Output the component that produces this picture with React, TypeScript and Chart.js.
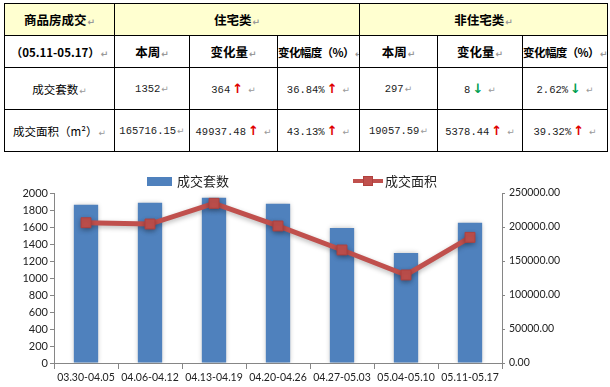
import React, { useEffect, useRef } from "react";
import { Chart, registerables } from "chart.js";

Chart.register(...registerables);

// ---------- data ----------
const categories = [
  "03.30-04.05",
  "04.06-04.12",
  "04.13-04.19",
  "04.20-04.26",
  "04.27-05.03",
  "05.04-05.10",
  "05.11-05.17",
];
const unitsSold = [1862, 1886, 1945, 1874, 1588, 1293, 1649];
const areaSold = [206300, 204400, 234800, 201500, 166200, 129458, 184774];
const seriesNames = ["成交套数", "成交面积"];

const topHeaders = ["商品房成交", "住宅类", "非住宅类"];
const subHeaders = ["（05.11-05.17）", "本周", "变化量", "变化幅度（%）", "本周", "变化量", "变化幅度（%）"];
const rowLabels = ["成交套数", "成交面积（m²）"];
const row1Values = ["1352", "364", "36.84%", "297", "8", "2.62%"];
const row1Dirs = ["", "up", "up", "", "down", "down"];
const row2Values = ["165716.15", "49937.48", "43.13%", "19057.59", "5378.44", "39.32%"];
const row2Dirs = ["", "up", "up", "", "up", "up"];

const BLUE = "#4F81BD";
const RED = "#C0504D";
const AXIS = "#868686";

const colWidths = [110, 75, 88, 82, 78, 85, 85];
const rowHeights = [32, 32, 42, 42];

const shadowPlugin = {
  id: "softShadow",
  beforeDatasetDraw(chart: any, args: any) {
    const ctx = chart.ctx;
    ctx.save();
    ctx.shadowColor = "rgba(0,0,0,0.28)";
    ctx.shadowBlur = 5;
    ctx.shadowOffsetX = 0;
    ctx.shadowOffsetY = args.index === 1 ? 2 : 0;
  },
  afterDatasetDraw(chart: any) {
    chart.ctx.restore();
  },
};

const Para = () => (
  <span style={{ color: "#999", fontSize: 9, fontFamily: "DejaVu Sans", marginLeft: 1 }}>↵</span>
);

const Arrow = ({ dir }: { dir: string }) =>
  dir ? (
    <span
      style={{
        color: dir === "up" ? "#E00000" : "#00A050",
        fontWeight: 900,
        fontSize: 13,
        fontFamily: "DejaVu Sans",
        marginLeft: 2,
        marginRight: 4,
      }}
    >
      {dir === "up" ? "↑" : "↓"}
    </span>
  ) : null;

const cellBase: React.CSSProperties = {
  border: "1px solid #000",
  textAlign: "center",
  verticalAlign: "middle",
  padding: 0,
  whiteSpace: "nowrap",
  overflow: "hidden",
};

const headFont: React.CSSProperties = {
  fontFamily: "'Noto Sans CJK SC'",
  fontWeight: 700,
  fontSize: 12.5,
  color: "#000",
};

const numFont: React.CSSProperties = {
  fontFamily: "'Liberation Mono'",
  fontSize: 10.5,
  color: "#222",
};

const labelFont: React.CSSProperties = {
  fontFamily: "'Noto Sans CJK SC'",
  fontSize: 11.5,
  color: "#000",
};

function DataTable() {
  const valueRow = (label: string, vals: string[], dirs: string[], h: number) => (
    <tr style={{ height: h }}>
      <td style={{ ...cellBase, ...labelFont }}>
        {label}
        <Para />
      </td>
      {vals.map((v, i) => (
        <td key={i} style={{ ...cellBase, ...numFont }}>
          {v}
          <Arrow dir={dirs[i]} />
          <Para />
        </td>
      ))}
    </tr>
  );
  return (
    <table
      style={{
        position: "absolute",
        left: 4,
        top: 3,
        width: 604,
        borderCollapse: "collapse",
        tableLayout: "fixed",
        background: "#fff",
      }}
    >
      <colgroup>
        {colWidths.map((w, i) => (
          <col key={i} style={{ width: w }} />
        ))}
      </colgroup>
      <tbody>
        <tr style={{ height: rowHeights[0], background: "#FFFFD0" }}>
          <td style={{ ...cellBase, ...headFont }}>
            {topHeaders[0]}
            <Para />
          </td>
          <td colSpan={3} style={{ ...cellBase, ...headFont }}>
            {topHeaders[1]}
            <Para />
          </td>
          <td colSpan={3} style={{ ...cellBase, ...headFont }}>
            {topHeaders[2]}
            <Para />
          </td>
        </tr>
        <tr style={{ height: rowHeights[1] }}>
          {subHeaders.map((s, i) => (
            <td
              key={i}
              style={{
                ...cellBase,
                ...headFont,
                fontSize: i === 0 ? 11.5 : i === 3 || i === 6 ? 11.5 : 12.5,
                letterSpacing: i === 3 || i === 6 ? -0.6 : 0,
              }}
            >
              {s}
              <Para />
            </td>
          ))}
        </tr>
        {valueRow(rowLabels[0], row1Values, row1Dirs, rowHeights[2])}
        {valueRow(rowLabels[1], row2Values, row2Dirs, rowHeights[3])}
      </tbody>
    </table>
  );
}

function ComboChart() {
  const ref = useRef<HTMLCanvasElement | null>(null);
  useEffect(() => {
    if (!ref.current) return;
    const tickFont = { family: "Lato", size: 10.5 };
    const chart = new Chart(ref.current, {
      type: "bar",
      data: {
        labels: categories,
        datasets: [
          {
            type: "bar",
            label: seriesNames[0],
            data: unitsSold,
            backgroundColor: BLUE,
            borderWidth: 0,
            yAxisID: "y",
            barPercentage: 0.38,
            categoryPercentage: 1,
            order: 2,
          } as any,
          {
            type: "line",
            label: seriesNames[1],
            data: areaSold,
            borderColor: RED,
            backgroundColor: RED,
            borderWidth: 5,
            pointStyle: "rect",
            pointRadius: 7,
            pointBorderWidth: 1,
            pointBorderColor: "#B0413E",
            pointBackgroundColor: RED,
            tension: 0,
            yAxisID: "y1",
            order: 1,
          } as any,
        ],
      },
      options: {
        animation: false,
        responsive: false,
        events: [],
        layout: { padding: { top: 33, left: 0, right: 0, bottom: 0 } },
        plugins: {
          legend: { display: false },
          tooltip: { enabled: false },
        },
        scales: {
          x: {
            offset: true,
            grid: {
              display: true,
              offset: true,
              drawOnChartArea: false,
              drawTicks: true,
              tickLength: 6,
              color: AXIS,
            },
            border: { display: true, color: AXIS },
            ticks: {
              font: tickFont,
              color: "#222",
              padding: 2,
              maxRotation: 0,
              autoSkip: false,
            },
            afterFit: (s: any) => {
              s.height = 24;
            },
          },
          y: {
            position: "left",
            min: 0,
            max: 2000,
            grid: {
              display: true,
              drawOnChartArea: false,
              drawTicks: true,
              tickLength: 4,
              color: AXIS,
            },
            border: { display: true, color: AXIS },
            ticks: {
              stepSize: 200,
              font: { family: "Lato", size: 11 },
              color: "#222",
              padding: 2,
              callback: (v: any) => String(v),
            },
            afterFit: (s: any) => {
              s.width = 54;
            },
          },
          y1: {
            position: "right",
            min: 0,
            max: 250000,
            grid: {
              display: true,
              drawOnChartArea: false,
              drawTicks: true,
              tickLength: 3,
              color: AXIS,
            },
            border: { display: true, color: AXIS },
            ticks: {
              stepSize: 50000,
              font: tickFont,
              color: "#222",
              padding: 4,
              callback: (v: any) => Number(v).toFixed(2),
            },
            afterFit: (s: any) => {
              s.width = 108;
            },
          },
        },
      } as any,
      plugins: [shadowPlugin],
    });
    return () => chart.destroy();
  }, []);
  return (
    <div style={{ position: "absolute", left: 0, top: 160, width: 610, height: 227 }}>
      <canvas ref={ref} width={610} height={227} style={{ width: 610, height: 227, display: "block" }} />
    </div>
  );
}

function Legend() {
  const txt: React.CSSProperties = {
    position: "absolute",
    top: 172,
    fontFamily: "'Noto Sans CJK SC'",
    fontSize: 13,
    lineHeight: "18px",
    color: "#222",
    whiteSpace: "nowrap",
  };
  return (
    <>
      <div style={{ position: "absolute", left: 147, top: 177, width: 25, height: 9, background: BLUE }} />
      <div style={{ ...txt, left: 177 }}>{seriesNames[0]}</div>
      <div style={{ position: "absolute", left: 353, top: 179, width: 30, height: 4, background: RED }} />
      <div
        style={{
          position: "absolute",
          left: 363,
          top: 176,
          width: 10,
          height: 10,
          background: RED,
          boxSizing: "border-box",
          border: "1px solid #B0413E",
        }}
      />
      <div style={{ ...txt, left: 385 }}>{seriesNames[1]}</div>
    </>
  );
}

export default function App() {
  return (
    <div
      style={{
        position: "absolute",
        left: 0,
        top: 0,
        width: 610,
        height: 387,
        background: "#fff",
        overflow: "hidden",
      }}
    >
      <DataTable />
      <ComboChart />
      <Legend />
    </div>
  );
}
